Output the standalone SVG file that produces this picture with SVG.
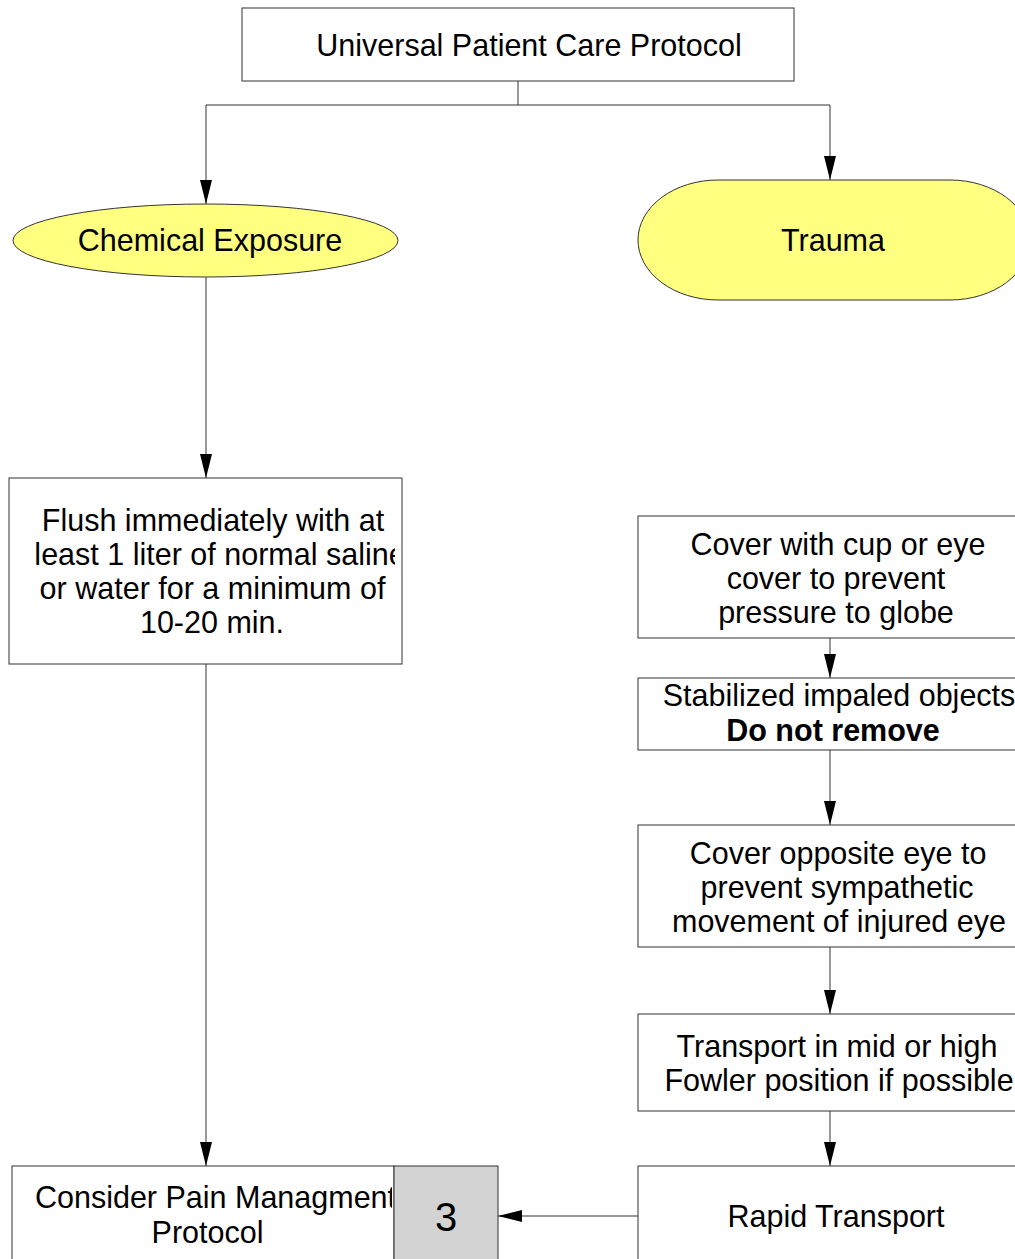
<svg xmlns="http://www.w3.org/2000/svg" width="1015" height="1259" viewBox="0 0 1015 1259">
<style>
.box{fill:#fff;stroke:#333;stroke-width:1}
.term{fill:#ffff80;stroke:#333;stroke-width:1}
.gray{fill:#d3d3d3;stroke:#333;stroke-width:1}
.t{font-family:"Liberation Sans",Arial,sans-serif;font-size:30.5px;fill:#000;text-anchor:middle}
.b{font-weight:bold}
.big{font-size:40px}
.c{fill:none;stroke:#333;stroke-width:1}
.a{marker-end:url(#arr)}
</style>
<defs>
<marker id="arr" markerUnits="userSpaceOnUse" markerWidth="24" markerHeight="12" refX="24" refY="6" orient="auto">
<path d="M0,0 L24,6 L0,12 z" fill="#000"/>
</marker>
<clipPath id="clipFlush"><rect x="9" y="478" width="386" height="186"/></clipPath>
<clipPath id="clipPain"><rect x="12" y="1166" width="380" height="93"/></clipPath>
</defs>
<rect width="1015" height="1259" fill="#fff"/>
<g id="connectors">
<path class="c" d="M518,81 V105 M206,105 H830"/>
<path class="c a" d="M206,105 V204"/>
<path class="c a" d="M830,105 V180"/>
<path class="c a" d="M206,277 V478"/>
<path class="c a" d="M206,664 V1166"/>
<path class="c a" d="M830,638 V678"/>
<path class="c a" d="M830,750 V825"/>
<path class="c a" d="M830,947 V1014"/>
<path class="c a" d="M830,1111 V1166"/>
<path class="c a" d="M638,1216 H498"/>
</g>
<g id="universal">
<rect class="box" x="242" y="8" width="552" height="73"/>
<text class="t" x="529" y="56">Universal Patient Care Protocol</text>
</g>
<g id="chemical">
<ellipse class="term" cx="205.5" cy="240.5" rx="192.5" ry="36.5"/>
<text class="t" x="210" y="251">Chemical Exposure</text>
</g>
<g id="trauma">
<rect class="term" x="638" y="180" width="392" height="120" rx="80" ry="60"/>
<text class="t" x="833" y="251">Trauma</text>
</g>
<g id="flush">
<rect class="box" x="9" y="478" width="393" height="186"/>
<g clip-path="url(#clipFlush)">
<text class="t" x="213" y="531">Flush immediately with at</text>
<text class="t" x="220" y="565">least 1 liter of normal saline</text>
<text class="t" x="212.5" y="599">or water for a minimum of</text>
<text class="t" x="212" y="633">10-20 min.</text>
</g>
</g>
<g id="cover-cup">
<rect class="box" x="638" y="516" width="396" height="122"/>
<text class="t" x="838" y="555">Cover with cup or eye</text>
<text class="t" x="836" y="589">cover to prevent</text>
<text class="t" x="836" y="623">pressure to globe</text>
</g>
<g id="stabilized">
<rect class="box" x="638" y="678" width="396" height="72"/>
<text class="t" x="839" y="706">Stabilized impaled objects</text>
<text class="t b" x="833" y="741">Do not remove</text>
</g>
<g id="cover-opposite">
<rect class="box" x="638" y="825" width="396" height="122"/>
<text class="t" x="838" y="864">Cover opposite eye to</text>
<text class="t" x="837" y="898">prevent sympathetic</text>
<text class="t" x="839" y="932">movement of injured eye</text>
</g>
<g id="transport">
<rect class="box" x="638" y="1014" width="396" height="97"/>
<text class="t" x="837" y="1057">Transport in mid or high</text>
<text class="t" x="839" y="1091">Fowler position if possible</text>
</g>
<g id="rapid">
<rect class="box" x="638" y="1166" width="396" height="110"/>
<text class="t" x="836" y="1227">Rapid Transport</text>
</g>
<g id="pain">
<rect class="box" x="12" y="1166" width="382" height="110"/>
<rect class="gray" x="394" y="1166" width="104" height="110"/>
<g clip-path="url(#clipPain)">
<text class="t" x="215.5" y="1208">Consider Pain Managment</text>
<text class="t" x="207.5" y="1243">Protocol</text>
</g>
<text class="t big" x="446" y="1231">3</text>
</g>
</svg>
